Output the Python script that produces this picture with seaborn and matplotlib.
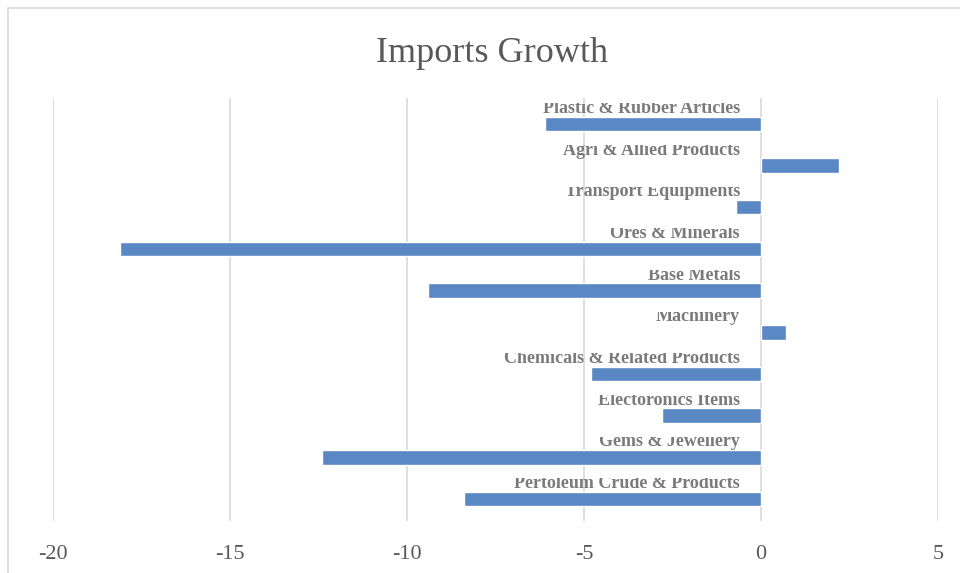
import matplotlib
matplotlib.use("Agg")
import matplotlib.pyplot as plt
from matplotlib.transforms import Bbox, TransformedBbox
from matplotlib.patches import Rectangle
import seaborn as sns
import pandas as pd

categories = [
    "Plastic & Rubber Articles",
    "Agri & Allied Products",
    "Transport Equipments",
    "Ores & Minerals",
    "Base Metals",
    "Machinery",
    "Chemicals & Related Products",
    "Electoronics Items",
    "Gems & Jewellery",
    "Pertoleum Crude & Products",
]
growth = [-6.1, 2.2, -0.7, -18.1, -9.4, 0.7, -4.8, -2.8, -12.4, -8.4]
x_ticks = [-20, -15, -10, -5, 0, 5]
title = "Imports Growth"

df = pd.DataFrame({"category": categories, "growth": growth})

sns.set_theme(style="white")
plt.rcParams["font.family"] = ["Liberation Serif", "DejaVu Serif"]

fig = plt.figure(figsize=(9.6, 5.73), dpi=100)
ax = fig.add_axes([53 / 960, 1 - 521 / 573, (938 - 53) / 960, (521 - 98) / 573])

sns.barplot(data=df, x="growth", y="category", orient="h", color="#5A88C4",
            saturation=1, width=0.35, ax=ax, zorder=3)

ax.set_xlim(-20, 5)
ax.set_ylim(9.53, -0.62)
ax.set_xticks(x_ticks)
ax.set_xticklabels([str(t) for t in x_ticks], fontsize=16, color="#595959")
ax.set_yticks([])
ax.set_xlabel("")
ax.set_ylabel("")
ax.tick_params(axis="x", length=0, pad=17)
for s in ax.spines.values():
    s.set_visible(False)
ax.grid(axis="x", color="#d9d9d9", linewidth=1.2, zorder=0)
ax.set_axisbelow(True)

# category labels above bars, top slightly clipped
for i, cat in enumerate(categories):
    t = ax.text(-0.59, i - 0.26, cat, ha="right", va="baseline",
                fontsize=13, fontweight="bold", color="#7a7a7a", zorder=4)
    cb = TransformedBbox(Bbox([[-20, i - 0.49], [5, i - 0.1]]), ax.transData)
    t.set_clip_box(cb)
    t.set_clip_on(True)

fig.text(492 / 960, 1 - 53 / 573, title, ha="center", va="center",
         fontsize=26, color="#595959")

# chart border
fig.patches.append(Rectangle((8 / 960, -0.1), 1.2, 1.1 - 8 / 573,
                             transform=fig.transFigure, fill=False,
                             edgecolor="#d9d9d9", linewidth=1.2))

fig.savefig("out.png", dpi=100)
